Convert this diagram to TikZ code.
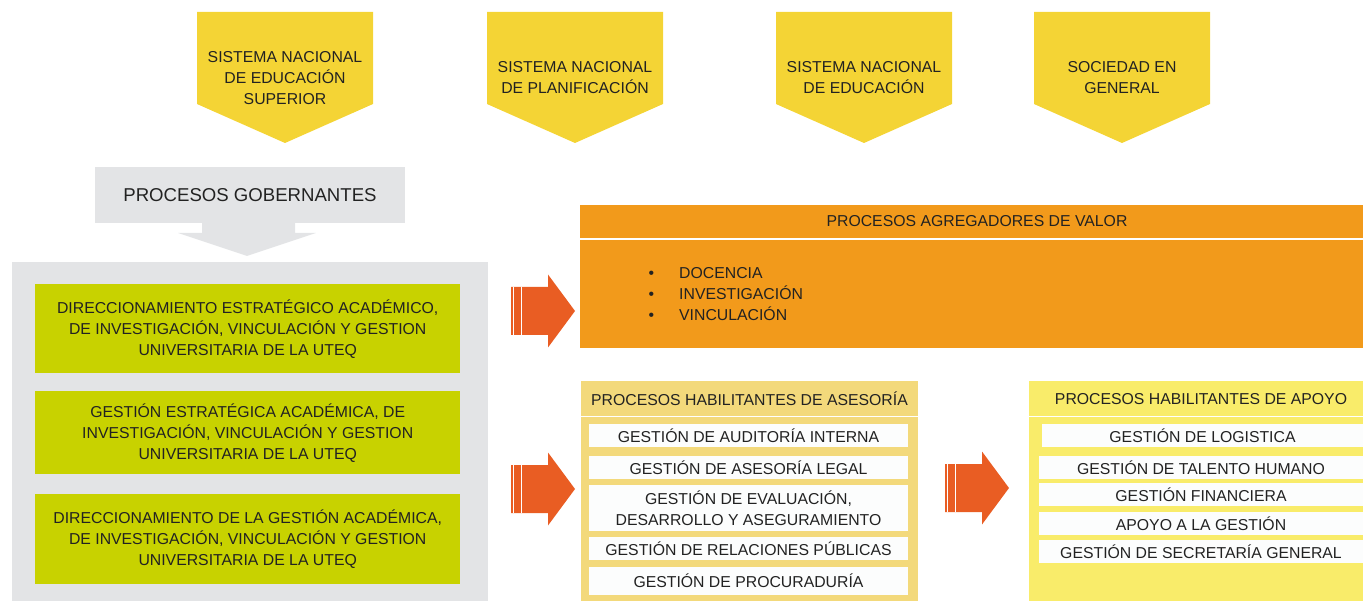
\documentclass[tikz,border=0pt]{standalone}
\usepackage{fontspec}
\setmainfont{Liberation Sans}
\definecolor{pentc}{HTML}{F4D435}
\definecolor{grayc}{HTML}{E3E4E6}
\definecolor{greenc}{HTML}{C8D200}
\definecolor{orangec}{HTML}{F29A1B}
\definecolor{arrowc}{HTML}{E95D23}
\definecolor{asc}{HTML}{F3D97B}
\definecolor{apc}{HTML}{F9EC6A}
\definecolor{whitec}{HTML}{FCFDFD}
\definecolor{txtc}{HTML}{222222}
\begin{document}
\begin{tikzpicture}[x=1pt,y=-1pt,
  txt/.style={text=txtc, font=\fontsize{15.8}{21}\selectfont, align=center, inner sep=0pt},
  greenbox/.style={txt, fill=greenc, minimum width=425, anchor=north west},
  rowbox/.style={txt, fill=whitec},
  pentshape/.style={fill=pentc},
  blockarrow/.style={fill=arrowc},
  stripe/.style={draw=white, line width=0.9pt}]
\useasboundingbox (0,0) rectangle (1363,601);

% top pentagons
\foreach \x in {197,487,776,1034}
  \fill[pentshape] (\x,12) -- ++(176,0) -- ++(0,92) -- ++(-88,39) -- ++(-88,-39) -- cycle;
\node[txt] (s1) at (285,78) {SISTEMA NACIONAL\\DE EDUCACIÓN\\SUPERIOR};
\node[txt] (s2) at (575,77.5) {SISTEMA NACIONAL\\DE PLANIFICACIÓN};
\node[txt] (s3) at (864,77.5) {SISTEMA NACIONAL\\DE EDUCACIÓN};
\node[txt] (s4) at (1122,77.5) {SOCIEDAD EN\\GENERAL};

% procesos gobernantes
\node[txt, fill=grayc, minimum width=310, minimum height=56, font=\fontsize{18.6}{22}\selectfont] (gob) at (250,195) {PROCESOS GOBERNANTES};
\fill[grayc] (202,223) -- (295,223) -- (295,233) -- (316,233) -- (247,256) -- (178,233) -- (202,233) -- cycle;
\node[fill=grayc, minimum width=476, minimum height=339, anchor=north west, inner sep=0pt] (panel) at (12,262) {};
\node[greenbox, minimum height=89] (g1) at (35,284) {DIRECCIONAMIENTO ESTRATÉGICO ACADÉMICO,\\DE INVESTIGACIÓN, VINCULACIÓN Y GESTION\\UNIVERSITARIA DE LA UTEQ};
\node[greenbox, minimum height=83] (g2) at (35,391) {GESTIÓN ESTRATÉGICA ACADÉMICA, DE\\INVESTIGACIÓN, VINCULACIÓN Y GESTION\\UNIVERSITARIA DE LA UTEQ};
\node[greenbox, minimum height=90] (g3) at (35,494) {DIRECCIONAMIENTO DE LA GESTIÓN ACADÉMICA,\\DE INVESTIGACIÓN, VINCULACIÓN Y GESTION\\UNIVERSITARIA DE LA UTEQ};

% procesos agregadores de valor
\fill[orangec] (580,205) rectangle (1363,238);
\fill[orangec] (580,240) rectangle (1363,348);
\node[txt] (valor) at (977,221.5) {PROCESOS AGREGADORES DE VALOR};
\foreach \y/\t/\n in {278.5/DOCENCIA/v1, 299.5/INVESTIGACIÓN/v2, 320.5/VINCULACIÓN/v3} {
  \node[txt, anchor=base west] (\n) at (648.5,\y) {\makebox[30.5pt][l]{•}\t};
}

% asesoria
\fill[asc] (581,381) rectangle (918,601);
\draw[white, line width=1.2pt] (581,416.5) -- (918,416.5);
\node[txt] (ases) at (749.5,398.5) {PROCESOS HABILITANTES DE ASESORÍA};
\node[rowbox, minimum width=319, minimum height=23] (a1) at (748.5,435.5) {GESTIÓN DE AUDITORÍA INTERNA};
\node[rowbox, minimum width=319, minimum height=23] (a2) at (748.5,467.5) {GESTIÓN DE ASESORÍA LEGAL};
\node[rowbox, minimum width=319, minimum height=46] (a3) at (748.5,508) {GESTIÓN DE EVALUACIÓN,\\DESARROLLO Y ASEGURAMIENTO};
\node[rowbox, minimum width=319, minimum height=23] (a4) at (748.5,548.5) {GESTIÓN DE RELACIONES PÚBLICAS};
\node[rowbox, minimum width=319, minimum height=28] (a5) at (748.5,581) {GESTIÓN DE PROCURADURÍA};

% apoyo
\fill[apc] (1029,381) rectangle (1363,601);
\draw[white, line width=1.2pt] (1029,416.5) -- (1363,416.5);
\node[txt] (apoyo) at (1201,399) {PROCESOS HABILITANTES DE APOYO};
\node[rowbox, minimum width=321, minimum height=23] (p1) at (1202.5,435.5) {GESTIÓN DE LOGISTICA};
\node[rowbox, minimum width=324, minimum height=23] (p2) at (1201,467.5) {GESTIÓN DE TALENTO HUMANO};
\node[rowbox, minimum width=324, minimum height=23] (p3) at (1201,494.5) {GESTIÓN FINANCIERA};
\node[rowbox, minimum width=324, minimum height=23] (p4) at (1201,523.5) {APOYO A LA GESTIÓN};
\node[rowbox, minimum width=324, minimum height=23] (p5) at (1201,551.5) {GESTIÓN DE SECRETARÍA GENERAL};

% block arrows
\foreach \x/\y in {511/311, 511/489, 945/488} {
  \fill[blockarrow] (\x,\y-24) -- ++(37,0) -- ++(0,-12.5) -- (\x+64,\y) -- (\x+37,\y+36.5) -- ++(0,-12.5) -- (\x,\y+24) -- cycle;
  \draw[stripe] (\x+2.6,\y-24) -- (\x+2.6,\y+24);
  \draw[stripe] (\x+10,\y-24) -- (\x+10,\y+24);
}
\end{tikzpicture}
\end{document}
